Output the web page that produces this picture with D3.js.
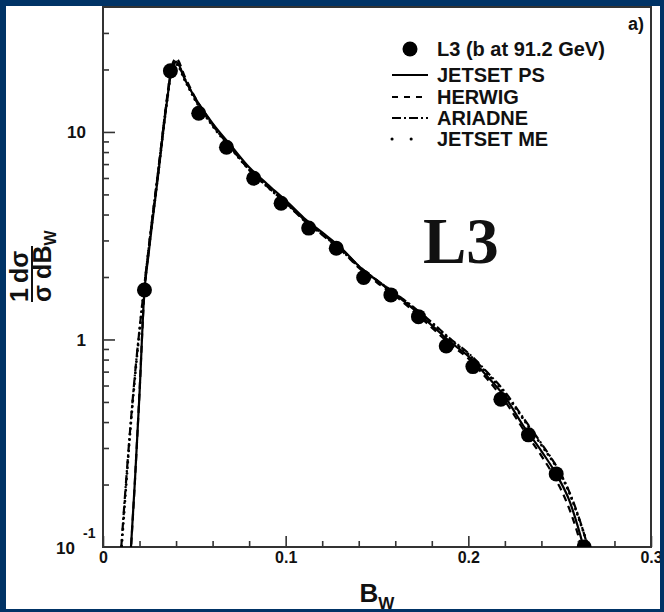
<!DOCTYPE html>
<html>
<head>
<meta charset="utf-8">
<script src="https://cdn.jsdelivr.net/npm/d3@7"></script>
<style>
  html, body { margin: 0; padding: 0; background: #003366; }
  svg { display: block; }
  text { font-family: "Liberation Sans", Arial, Helvetica, sans-serif; font-weight: bold; fill: #111; }
</style>
</head>
<body>
<svg id="chart" width="664" height="612"></svg>
<script>
// B_W grid on which the Monte Carlo curves are tabulated
const bwGrid = [0.010, 0.0125, 0.015, 0.0175, 0.020, 0.0225, 0.025, 0.030, 0.035, 0.0375,
  0.040, 0.045, 0.050, 0.060, 0.070, 0.080, 0.090, 0.100, 0.110, 0.120,
  0.130, 0.140, 0.150, 0.160, 0.170, 0.180, 0.190, 0.200, 0.210, 0.220,
  0.230, 0.240, 0.250, 0.255, 0.260, 0.265, 0.270];

// 1/sigma dsigma/dB_W for each generator
const jetsetPS = [0.018, 0.04, 0.09, 0.21, 0.55, 1.62, 2.6, 6.0, 14.0, 19.8,
  21.8, 17.8, 14.8, 11.0, 8.6, 6.75, 5.6, 4.68, 3.85, 3.28,
  2.78, 2.26, 1.92, 1.65, 1.40, 1.17, 0.975, 0.83, 0.67, 0.53,
  0.385, 0.29, 0.21, 0.17, 0.125, 0.085, 0.05];
const herwig = [0.016, 0.038, 0.088, 0.21, 0.56, 1.6, 2.7, 6.2, 14.5, 20.5,
  22.6, 18.3, 14.9, 10.9, 8.4, 6.6, 5.45, 4.56, 3.75, 3.19,
  2.71, 2.22, 1.88, 1.62, 1.37, 1.14, 0.95, 0.81, 0.65, 0.505,
  0.37, 0.275, 0.195, 0.155, 0.115, 0.078, 0.045];
const ariadne = [0.1, 0.2, 0.38, 0.68, 1.12, 1.78, 2.75, 6.3, 14.2, 20.0,
  21.5, 17.9, 14.6, 10.8, 8.4, 6.6, 5.5, 4.6, 3.79, 3.23,
  2.75, 2.26, 1.93, 1.67, 1.43, 1.21, 1.01, 0.86, 0.70, 0.56,
  0.42, 0.315, 0.23, 0.187, 0.143, 0.103, 0.068];
const jetsetME = [0.095, 0.19, 0.37, 0.66, 1.1, 1.75, 2.7, 6.1, 14.0, 19.6,
  21.2, 17.6, 14.5, 10.7, 8.35, 6.58, 5.44, 4.56, 3.77, 3.21,
  2.73, 2.24, 1.92, 1.66, 1.42, 1.2, 1.0, 0.85, 0.69, 0.55,
  0.415, 0.31, 0.228, 0.185, 0.141, 0.104, 0.07];

// L3 b-quark data at 91.2 GeV
const dataBw = [0.0227, 0.0369, 0.0524, 0.0676, 0.0825, 0.0975, 0.1126, 0.1277, 0.1427,
  0.1576, 0.1727, 0.1879, 0.2025, 0.2178, 0.2329, 0.2481, 0.2634];
const dataVal = [1.73, 19.7, 12.3, 8.44, 5.98, 4.53, 3.44, 2.75, 1.99,
  1.64, 1.288, 0.930, 0.740, 0.515, 0.347, 0.225, 0.100];

// axis ticks
const xMajorTicks = [0, 0.1, 0.2, 0.3];
const xMinorTicks = [0.02, 0.04, 0.06, 0.08, 0.12, 0.14, 0.16, 0.18, 0.22, 0.24, 0.26, 0.28];
const yMajorTicks = [1, 10];
const yMinorTicks = [0.2, 0.3, 0.4, 0.5, 0.6, 0.7, 0.8, 0.9, 2, 3, 4, 5, 6, 7, 8, 9, 20, 30];

const legendNames = ["L3 (b at 91.2 GeV)", "JETSET PS", "HERWIG", "ARIADNE", "JETSET ME"];

const svg = d3.select("#chart");
const W = 664, H = 612;
const box = { left: 103, right: 651, top: 7, bottom: 547 };

const x = d3.scaleLinear().domain([0, 0.3]).range([box.left, box.right]);
const y = d3.scaleLog().domain([0.1, 40]).range([box.bottom, box.top]);

// white page
svg.append("rect").attr("x", 0).attr("y", 0).attr("width", W).attr("height", H).attr("fill", "#fff");

svg.append("defs").append("clipPath").attr("id", "plotClip")
  .append("rect").attr("x", box.left).attr("y", box.top)
  .attr("width", box.right - box.left).attr("height", box.bottom - box.top);

// tick marks (drawn inward)
const gy = svg.append("g").attr("transform", `translate(${box.left},0)`);
gy.call(d3.axisLeft(y).tickValues(yMinorTicks).tickSize(-6).tickFormat(""));
gy.append("g").call(d3.axisLeft(y).tickValues(yMajorTicks).tickSize(-12).tickFormat(""));
gy.selectAll(".domain").remove();

const gx = svg.append("g").attr("transform", `translate(0,${box.bottom})`);
gx.call(d3.axisBottom(x).tickValues(xMinorTicks).tickSize(-6).tickFormat(""));
gx.append("g").call(d3.axisBottom(x).tickValues(xMajorTicks).tickSize(-11).tickPadding(5)
  .tickFormat(d => d === 0 ? "0" : d3.format(".1f")(d)));
gx.selectAll(".domain").remove();
svg.selectAll(".tick line").attr("stroke", "#333").attr("stroke-width", 1.6);
gx.selectAll(".tick text").attr("font-size", 16).attr("fill", "#111")
  .style("font-family", '"Liberation Sans", Arial, sans-serif').style("font-weight", "bold");

// y tick labels
const yLab = svg.append("g").attr("font-size", 17);
yMajorTicks.forEach(v => {
  yLab.append("text").attr("x", box.left - 17).attr("y", y(v)).attr("dy", "0.36em")
    .attr("text-anchor", "end").text(v);
});
yLab.append("text").attr("x", 75).attr("y", y(0.1)).attr("dy", "0.42em")
  .attr("text-anchor", "end").text("10");
yLab.append("text").attr("x", 83).attr("y", y(0.1) - 14).attr("dy", "0.36em")
  .attr("font-size", 14).text("-1");

// frame
svg.append("rect").attr("x", box.left).attr("y", box.top)
  .attr("width", box.right - box.left).attr("height", box.bottom - box.top)
  .attr("fill", "none").attr("stroke", "#333").attr("stroke-width", 2);

// Monte Carlo curves
const curves = [
  { vals: jetsetPS, dash: null, width: 2.2, cap: "butt" },
  { vals: herwig, dash: "7,5", width: 2.2, cap: "butt" },
  { vals: ariadne, dash: "8,3,2,3", width: 2.2, cap: "butt" },
  { vals: jetsetME, dash: "0.1,5.5", width: 2.8, cap: "round" }
];
const line = d3.line().x(d => x(d[0])).y(d => y(d[1])).curve(d3.curveMonotoneX);
const gc = svg.append("g").attr("clip-path", "url(#plotClip)");
curves.forEach(c => {
  gc.append("path")
    .attr("d", line(bwGrid.map((b, i) => [b, c.vals[i]])))
    .attr("fill", "none").attr("stroke", "#000").attr("stroke-width", c.width)
    .attr("stroke-linecap", c.cap)
    .attr("stroke-dasharray", c.dash);
});

// data points
gc.selectAll("circle.pt").data(dataBw.map((b, i) => [b, dataVal[i]])).join("circle")
  .attr("class", "pt").attr("cx", d => x(d[0])).attr("cy", d => y(d[1])).attr("r", 7.5)
  .attr("fill", "#000");

// legend
const lg = svg.append("g").attr("font-size", 20);
const rowY = [49, 75, 97, 118, 139];
lg.append("circle").attr("cx", 410).attr("cy", rowY[0]).attr("r", 7.5).attr("fill", "#000");
const legStyle = [
  { dash: null, width: 2, cap: "butt" },
  { dash: "6,6", width: 2, cap: "butt" },
  { dash: "9,3,2,3", width: 2, cap: "butt" },
  { dash: "0.1,19", width: 3, cap: "round" }
];
legStyle.forEach((s, i) => {
  lg.append("line").attr("x1", 392).attr("x2", 428).attr("y1", rowY[i + 1]).attr("y2", rowY[i + 1])
    .attr("stroke", "#000").attr("stroke-width", s.width).attr("stroke-linecap", s.cap)
    .attr("stroke-dasharray", s.dash);
});
legendNames.forEach((n, i) => {
  lg.append("text").attr("x", 437).attr("y", rowY[i]).attr("dy", "0.36em").text(n);
});

// panel tag and experiment name
svg.append("text").attr("x", 644).attr("y", 30).attr("text-anchor", "end").attr("font-size", 18).text("a)");
svg.append("text").attr("x", 423).attr("y", 263).attr("font-size", 65)
  .style("font-family", '"Liberation Serif", "Times New Roman", serif').text("L3");

// x axis title
const xt = svg.append("text").attr("x", x(0.15)).attr("y", 602).attr("text-anchor", "middle").attr("font-size", 26);
xt.append("tspan").text("B");
xt.append("tspan").attr("font-size", 17).attr("dy", 7).text("W");

// y axis title: 1/sigma dsigma/dB_W
const yt = svg.append("g").attr("transform", "translate(0,302) rotate(-90)");
const num = yt.append("text").attr("x", 0).attr("y", 28).attr("font-size", 25);
num.append("tspan").text("1");
num.append("tspan").attr("dx", 5).text("dσ");
yt.append("line").attr("x1", 0).attr("x2", 56).attr("y1", 32).attr("y2", 32)
  .attr("stroke", "#111").attr("stroke-width", 2);
const den = yt.append("text").attr("x", 0).attr("y", 51).attr("font-size", 25);
den.append("tspan").text("σ");
den.append("tspan").attr("dx", 6).text("dB");
den.append("tspan").attr("font-size", 16).attr("dy", 5).text("W");

// dark blue surround
svg.append("path")
  .attr("d", `M0,0H${W}V${H}H0Z M6,6V609H660V6Z`)
  .attr("fill", "#003366").attr("fill-rule", "evenodd");
</script>
</body>
</html>
